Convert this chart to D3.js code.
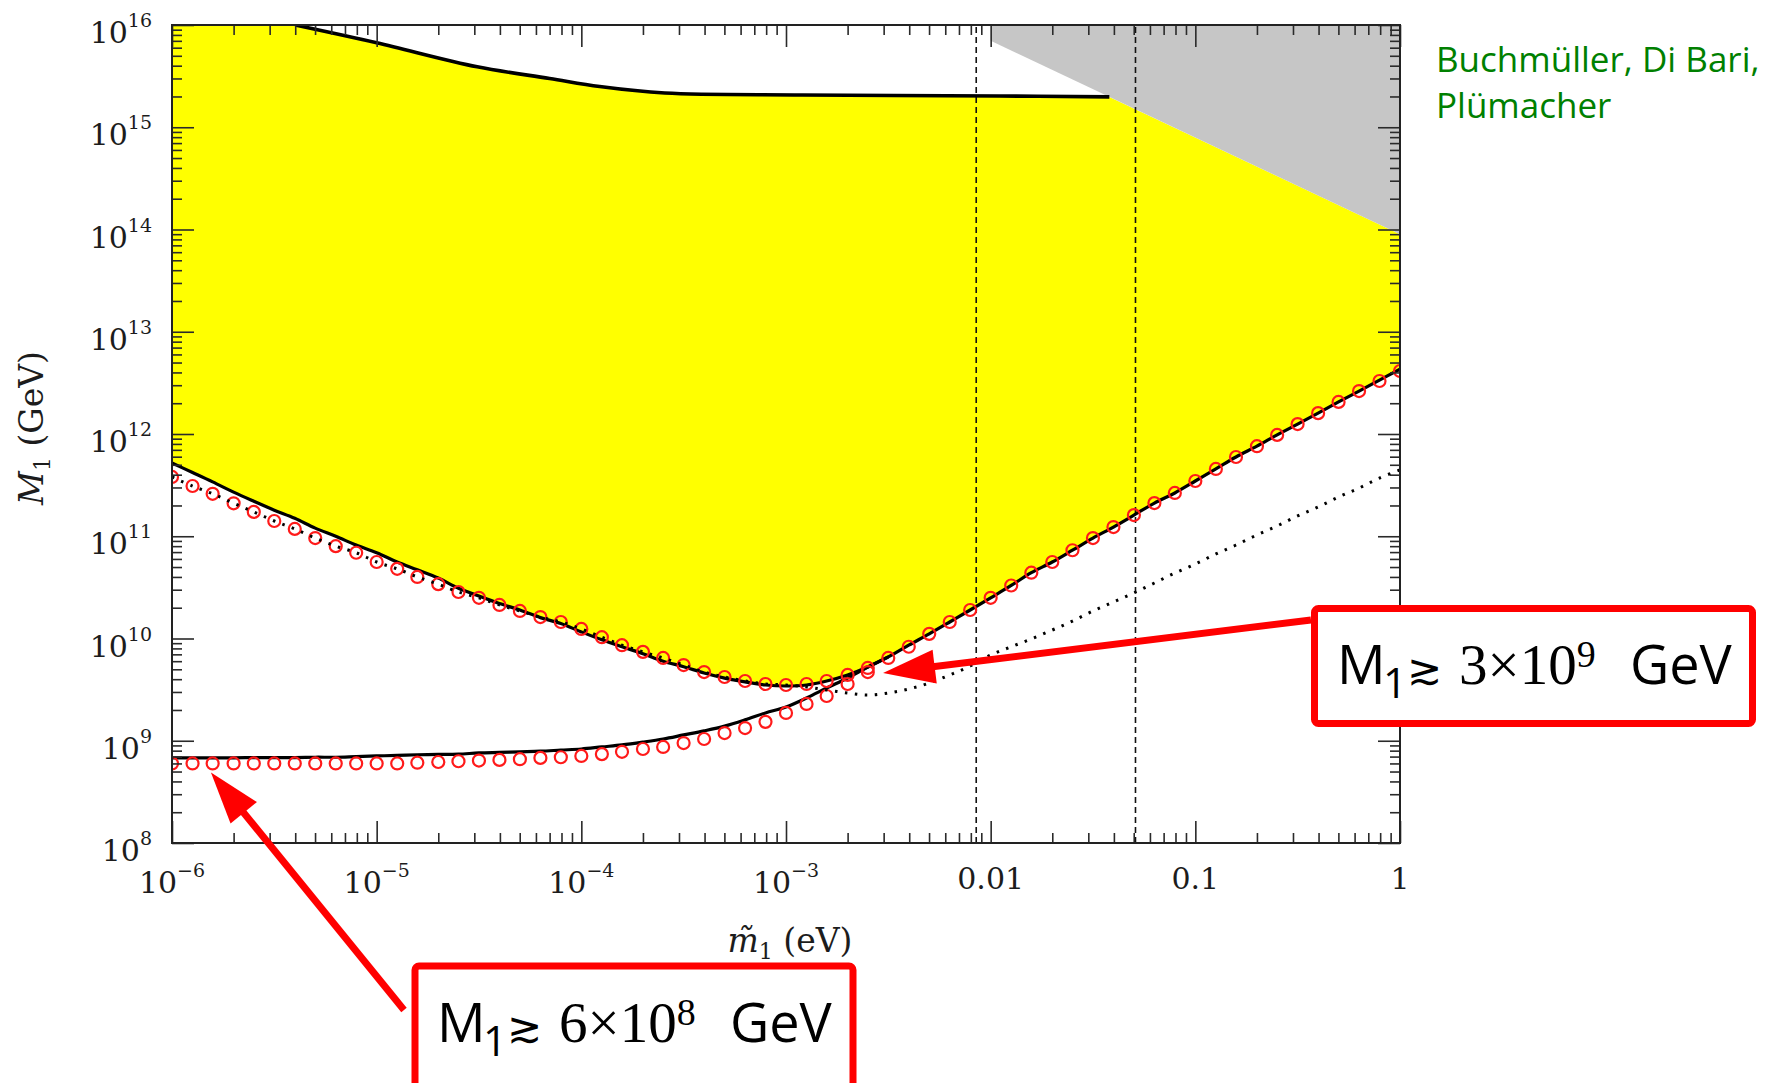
<!DOCTYPE html>
<html>
<head>
<meta charset="utf-8">
<script src="https://cdn.jsdelivr.net/npm/d3@7"></script>
<style>
  html, body { margin: 0; padding: 0; background: #fff; }
  svg { display: block; }
</style>
</head>
<body>
<svg id="chart" width="1772" height="1083"></svg>
<script>
// ---------------- data ----------------
// effective neutrino mass m̃1 (eV), sampled every 0.1 decade
const mGrid = [
  1.00e-6,1.26e-6,1.58e-6,2.00e-6,2.51e-6,3.16e-6,3.98e-6,5.01e-6,6.31e-6,7.94e-6,
  1.00e-5,1.26e-5,1.58e-5,2.00e-5,2.51e-5,3.16e-5,3.98e-5,5.01e-5,6.31e-5,7.94e-5,
  1.00e-4,1.26e-4,1.58e-4,2.00e-4,2.51e-4,3.16e-4,3.98e-4,5.01e-4,6.31e-4,7.94e-4,
  1.00e-3,1.26e-3,1.58e-3,2.00e-3,2.51e-3,3.16e-3,3.98e-3,5.01e-3,6.31e-3,7.94e-3,
  1.00e-2,1.26e-2,1.58e-2,2.00e-2,2.51e-2,3.16e-2,3.98e-2,5.01e-2,6.31e-2,7.94e-2,
  0.100,0.126,0.158,0.200,0.251,0.316,0.398,0.501,0.631,0.794,1.00
];

// lower edge of the allowed (yellow) band, M1 in GeV
const allowedLowerM = [
  5.2e11,4.2e11,3.4e11,2.7e11,2.2e11,1.8e11,1.5e11,1.2e11,1.0e11,8.2e10,
  6.9e10,5.6e10,4.7e10,3.9e10,3.1e10,2.6e10,2.2e10,1.9e10,1.6e10,1.4e10,
  1.16e10,9.7e9,8.3e9,7.1e9,6.0e9,5.3e9,4.6e9,4.1e9,3.76e9,3.51e9,
  3.43e9,3.51e9,3.84e9,4.4e9,5.26e9,6.6e9,8.6e9,1.11e10,1.45e10,1.9e10,
  2.5e10,3.3e10,4.4e10,5.6e10,7.3e10,9.6e10,1.23e11,1.61e11,2.11e11,2.65e11,
  3.47e11,4.55e11,5.96e11,7.6e11,9.8e11,1.25e12,1.6e12,2.06e12,2.63e12,3.37e12,
  4.3e12
];

// thermal initial abundance bound (solid), first 36 grid points
const thermalM = [
  6.8e8,6.8e8,6.8e8,6.8e8,6.85e8,6.85e8,6.85e8,6.9e8,6.9e8,7.0e8,
  7.1e8,7.2e8,7.3e8,7.35e8,7.4e8,7.6e8,7.7e8,7.8e8,7.9e8,8.1e8,
  8.3e8,8.7e8,9.1e8,9.7e8,1.04e9,1.14e9,1.25e9,1.39e9,1.6e9,1.87e9,
  2.14e9,2.62e9,3.28e9,4.11e9,5.26e9,6.6e9
];

// dotted bound
const dottedM = [
  3.8e11,3.1e11,2.6e11,2.1e11,1.73e11,1.41e11,1.18e11,9.6e10,8.0e10,6.9e10,
  5.6e10,4.8e10,4.0e10,3.4e10,2.85e10,2.5e10,2.13e10,1.86e10,1.62e10,1.45e10,
  1.24e10,1.03e10,8.6e9,7.4e9,6.45e9,5.5e9,4.7e9,4.2e9,3.84e9,3.59e9,
  3.51e9,3.36e9,3.14e9,2.93e9,2.8e9,2.93e9,3.21e9,3.67e9,4.4e9,5.38e9,
  6.9e9,8.3e9,9.9e9,1.21e10,1.48e10,1.86e10,2.28e10,2.79e10,3.49e10,4.37e10,
  5.35e10,6.71e10,8.21e10,1.03e11,1.26e11,1.58e11,1.93e11,2.42e11,2.96e11,3.71e11,
  4.45e11
];

// analytic approximation, upper branch (open circles), first 35 grid points
const circlesUpperM = [
  3.8e11,3.1e11,2.6e11,2.1e11,1.73e11,1.41e11,1.18e11,9.6e10,8.0e10,6.9e10,
  5.6e10,4.8e10,4.0e10,3.4e10,2.85e10,2.5e10,2.13e10,1.86e10,1.62e10,1.45e10,
  1.24e10,1.03e10,8.6e9,7.4e9,6.45e9,5.5e9,4.7e9,4.2e9,3.84e9,3.59e9,
  3.51e9,3.59e9,3.84e9,4.4e9,5.15e9
];

// analytic approximation, lower branch (open circles)
const circlesLowerM = [
  6.0e8,6.0e8,6.0e8,6.0e8,6.0e8,6.0e8,6.0e8,6.0e8,6.0e8,6.0e8,
  6.0e8,6.0e8,6.1e8,6.2e8,6.3e8,6.4e8,6.5e8,6.6e8,6.8e8,6.9e8,
  7.1e8,7.4e8,7.8e8,8.3e8,8.7e8,9.5e8,1.04e9,1.19e9,1.33e9,1.53e9,
  1.87e9,2.29e9,2.74e9,3.59e9,4.7e9,6.45e9,8.3e9,1.11e10,1.45e10,1.9e10,
  2.5e10,3.3e10,4.4e10,5.6e10,7.3e10,9.6e10,1.23e11,1.61e11,2.11e11,2.65e11,
  3.47e11,4.55e11,5.96e11,7.6e11,9.8e11,1.25e12,1.6e12,2.06e12,2.63e12,3.3e12,
  4.13e12
];

// upper bound of the allowed band
const upperX = [4.0e-6, 1.0e-5, 3.1e-5, 7.0e-5, 1.23e-4, 2.56e-4, 1.2e-3, 1.1e-2, 3.8e-2];
const upperM = [1e16, 6.7e15, 3.9e15, 3.0e15, 2.5e15, 2.16e15, 2.07e15, 2.02e15, 1.98e15];

// excluded (grey) corner
const greyX = [0.01, 1];
const greyM = [7e15, 9e13];

// solar and atmospheric mass scales (dashed)
const dashedX = [0.0085, 0.051];

// axis ticks
const xMajor = [1e-6, 1e-5, 1e-4, 1e-3, 1e-2, 1e-1, 1];
const xLabels = [["10","\u22126"],["10","\u22125"],["10","\u22124"],["10","\u22123"],["0.01",""],["0.1",""],["1",""]];
const yMajor = [1e8, 1e9, 1e10, 1e11, 1e12, 1e13, 1e14, 1e15, 1e16];
const yExponents = ["8","9","10","11","12","13","14","15","16"];

// annotations
const notes = [
  { mant: "6", exp: "8", tip: [1.55e-6, 4.9e8], box: [415, 966, 438, 135], text: [437, 1042], start: [404, 1010] },
  { mant: "3", exp: "9", tip: [2.98e-3, 4.6e9], box: [1314.5, 608.5, 438, 115], text: [1337, 684], start: [1311, 620] }
];

// ---------------- drawing ----------------
const svg = d3.select("#chart");
const L = 172, R = 1400, T = 25, B = 843;
const x = d3.scaleLog().domain([1e-6, 1]).range([L, R]);
const y = d3.scaleLog().domain([1e8, 1e16]).range([B, T]);

svg.append("rect").attr("width", 1772).attr("height", 1083).attr("fill", "#fff");

svg.append("defs").append("clipPath").attr("id", "plotClip")
  .append("rect").attr("x", L).attr("y", T).attr("width", R - L).attr("height", B - T);

const plot = svg.append("g").attr("clip-path", "url(#plotClip)");

const smooth = d3.line().x(d => x(d[0])).y(d => y(d[1])).curve(d3.curveCatmullRom.alpha(0.5));
const straight = d3.line().x(d => x(d[0])).y(d => y(d[1]));

const upperPts = d3.zip(upperX, upperM);
const lowerPts = d3.zip(mGrid, allowedLowerM);

// allowed band
const bandPath =
  `M${x(1e-6)},${y(1e16)}` +
  "L" + smooth(upperPts).slice(1) +
  `L${x(greyX[1])},${y(greyM[1])}` +
  "L" + smooth(lowerPts.slice().reverse()).slice(1) + "Z";
plot.append("path").attr("d", bandPath).attr("fill", "#ffff00");

// excluded corner
plot.append("path")
  .attr("d", straight([[greyX[0], 1e16], [greyX[0], greyM[0]], [greyX[1], greyM[1]], [greyX[1], 1e16]]) + "Z")
  .attr("fill", "#c6c6c6");

// dashed mass scales
plot.selectAll("line.mscale").data(dashedX).join("line")
  .attr("class", "mscale")
  .attr("x1", d => x(d)).attr("x2", d => x(d))
  .attr("y1", B).attr("y2", T)
  .attr("stroke", "#111").attr("stroke-width", 1.6).attr("stroke-dasharray", "6 4");

// solid bounds
plot.append("path").attr("d", smooth(lowerPts))
  .attr("fill", "none").attr("stroke", "#000").attr("stroke-width", 3.2);
plot.append("path").attr("d", smooth(d3.zip(mGrid.slice(0, thermalM.length), thermalM)))
  .attr("fill", "none").attr("stroke", "#000").attr("stroke-width", 3.2);
plot.append("path").attr("d", smooth(upperPts))
  .attr("fill", "none").attr("stroke", "#000").attr("stroke-width", 3.6);

// open circles
const circ = d3.zip(mGrid.slice(0, circlesUpperM.length), circlesUpperM)
  .concat(d3.zip(mGrid, circlesLowerM));
plot.selectAll("circle.approx").data(circ).join("circle")
  .attr("class", "approx")
  .attr("cx", d => x(d[0])).attr("cy", d => y(d[1])).attr("r", 6)
  .attr("fill", "none").attr("stroke", "#ff1a1a").attr("stroke-width", 2.2);

// dotted bound
plot.append("path").attr("d", smooth(d3.zip(mGrid, dottedM)))
  .attr("fill", "none").attr("stroke", "#000").attr("stroke-width", 3)
  .attr("stroke-dasharray", "2.5 7.5");

// ---------------- axes ----------------
const isMajor = v => Math.abs(Math.log10(v) - Math.round(Math.log10(v))) < 1e-9;
const xMinor = x.ticks().filter(v => !isMajor(v));
const yMinor = y.ticks().filter(v => !isMajor(v));

function tickAxis(axisFn, scale, values, size, tr) {
  const g = svg.append("g").attr("transform", tr)
    .call(axisFn(scale).tickValues(values).tickSize(size).tickFormat(""));
  g.select(".domain").remove();
  g.selectAll(".tick line").attr("stroke", "#2a2a2a").attr("stroke-width", 1.6);
}
tickAxis(d3.axisBottom, x, xMajor, -22, `translate(0,${B})`);
tickAxis(d3.axisBottom, x, xMinor, -10, `translate(0,${B})`);
tickAxis(d3.axisTop, x, xMajor, -22, `translate(0,${T})`);
tickAxis(d3.axisTop, x, xMinor, -10, `translate(0,${T})`);
tickAxis(d3.axisLeft, y, yMajor, -22, `translate(${L},0)`);
tickAxis(d3.axisLeft, y, yMinor, -10, `translate(${L},0)`);
tickAxis(d3.axisRight, y, yMajor, -22, `translate(${R},0)`);
tickAxis(d3.axisRight, y, yMinor, -10, `translate(${R},0)`);

svg.append("rect").attr("x", L).attr("y", T).attr("width", R - L).attr("height", B - T)
  .attr("fill", "none").attr("stroke", "#222").attr("stroke-width", 2);

const serif = "'DejaVu Serif', 'Liberation Serif', serif";

// y tick labels 10^n
yMajor.forEach((v, i) => {
  const t = svg.append("text").attr("x", 152).attr("y", y(v) + 18)
    .attr("text-anchor", "end").attr("font-family", serif).attr("fill", "#1c1c1c");
  t.append("tspan").attr("font-size", 30).text("10");
  t.append("tspan").attr("font-size", 19).attr("dy", -16).text(yExponents[i]);
});

// x tick labels
xMajor.forEach((v, i) => {
  const [base, exp] = xLabels[i];
  const t = svg.append("text").attr("x", x(v)).attr("y", exp ? 893 : 889)
    .attr("text-anchor", "middle").attr("font-family", serif).attr("fill", "#1c1c1c");
  t.append("tspan").attr("font-size", 30).text(base);
  if (exp) t.append("tspan").attr("font-size", 19).attr("dy", -16).text(exp);
});

// axis titles
const xt = svg.append("text").attr("x", (L + R) / 2 + 4).attr("y", 952)
  .attr("text-anchor", "middle").attr("font-family", serif).attr("font-size", 33).attr("fill", "#1c1c1c");
xt.append("tspan").attr("font-style", "italic").text("m\u0303");
xt.append("tspan").attr("font-size", 22).attr("dy", 7).text("1");
xt.append("tspan").attr("dy", -7).text(" (eV)");

const yt = svg.append("text").attr("transform", `translate(43,${(T + B) / 2 - 6}) rotate(-90)`)
  .attr("text-anchor", "middle").attr("font-family", serif).attr("font-size", 33).attr("fill", "#1c1c1c");
yt.append("tspan").attr("font-style", "italic").text("M");
yt.append("tspan").attr("font-size", 22).attr("dy", 7).text("1");
yt.append("tspan").attr("dy", -7).text(" (GeV)");

// author credit
const sans = "'Open Sans', 'Noto Sans', sans-serif";
svg.append("text").attr("x", 1436).attr("y", 72).attr("font-family", sans).attr("font-size", 35)
  .attr("fill", "#008000").text("Buchmüller, Di Bari,");
svg.append("text").attr("x", 1436).attr("y", 118).attr("font-family", sans).attr("font-size", 35)
  .attr("fill", "#008000").text("Plümacher");

// ---------------- annotations ----------------
const red = "#ff0000";
const numFont = "'Liberation Serif', 'DejaVu Serif', serif";
notes.forEach(n => {
  const g = svg.append("g");
  const tx = x(n.tip[0]), ty = y(n.tip[1]);
  const [sx, sy] = n.start;
  const dx = tx - sx, dy = ty - sy, len = Math.hypot(dx, dy);
  const ux = dx / len, uy = dy / len;
  const headLen = 52, headHalf = 17;
  const bx = tx - ux * headLen, by = ty - uy * headLen;
  g.append("line").attr("x1", sx).attr("y1", sy).attr("x2", bx + ux * 4).attr("y2", by + uy * 4)
    .attr("stroke", red).attr("stroke-width", 7);
  g.append("path")
    .attr("d", `M${tx},${ty}L${bx - uy * headHalf},${by + ux * headHalf}L${bx + uy * headHalf},${by - ux * headHalf}Z`)
    .attr("fill", red);

  const [rx, ry, rw, rh] = n.box;
  g.append("rect").attr("x", rx).attr("y", ry).attr("width", rw).attr("height", rh).attr("rx", 4)
    .attr("fill", "#fff").attr("stroke", red).attr("stroke-width", 7);

  const [x0, base] = n.text;
  const t = g.append("text").attr("y", base).attr("fill", "#000");
  t.append("tspan").attr("x", x0).attr("font-family", sans).attr("font-size", 54).text("M");
  t.append("tspan").attr("x", x0 + 46).attr("dy", 14).attr("font-family", sans).attr("font-size", 42).text("1");
  t.append("tspan").attr("x", x0 + 70).attr("dy", -14).attr("font-family", "'DejaVu Serif', serif").attr("font-size", 42).text("\u2273");
  t.append("tspan").attr("x", x0 + 122).attr("font-family", numFont).attr("font-size", 57).text(n.mant + "\u00d710");
  t.append("tspan").attr("dy", -17).attr("font-family", numFont).attr("font-size", 38).text(n.exp);
  t.append("tspan").attr("x", x0 + 293).attr("dy", 17).attr("font-family", sans).attr("font-size", 54).text("GeV");
});
</script>
</body>
</html>
